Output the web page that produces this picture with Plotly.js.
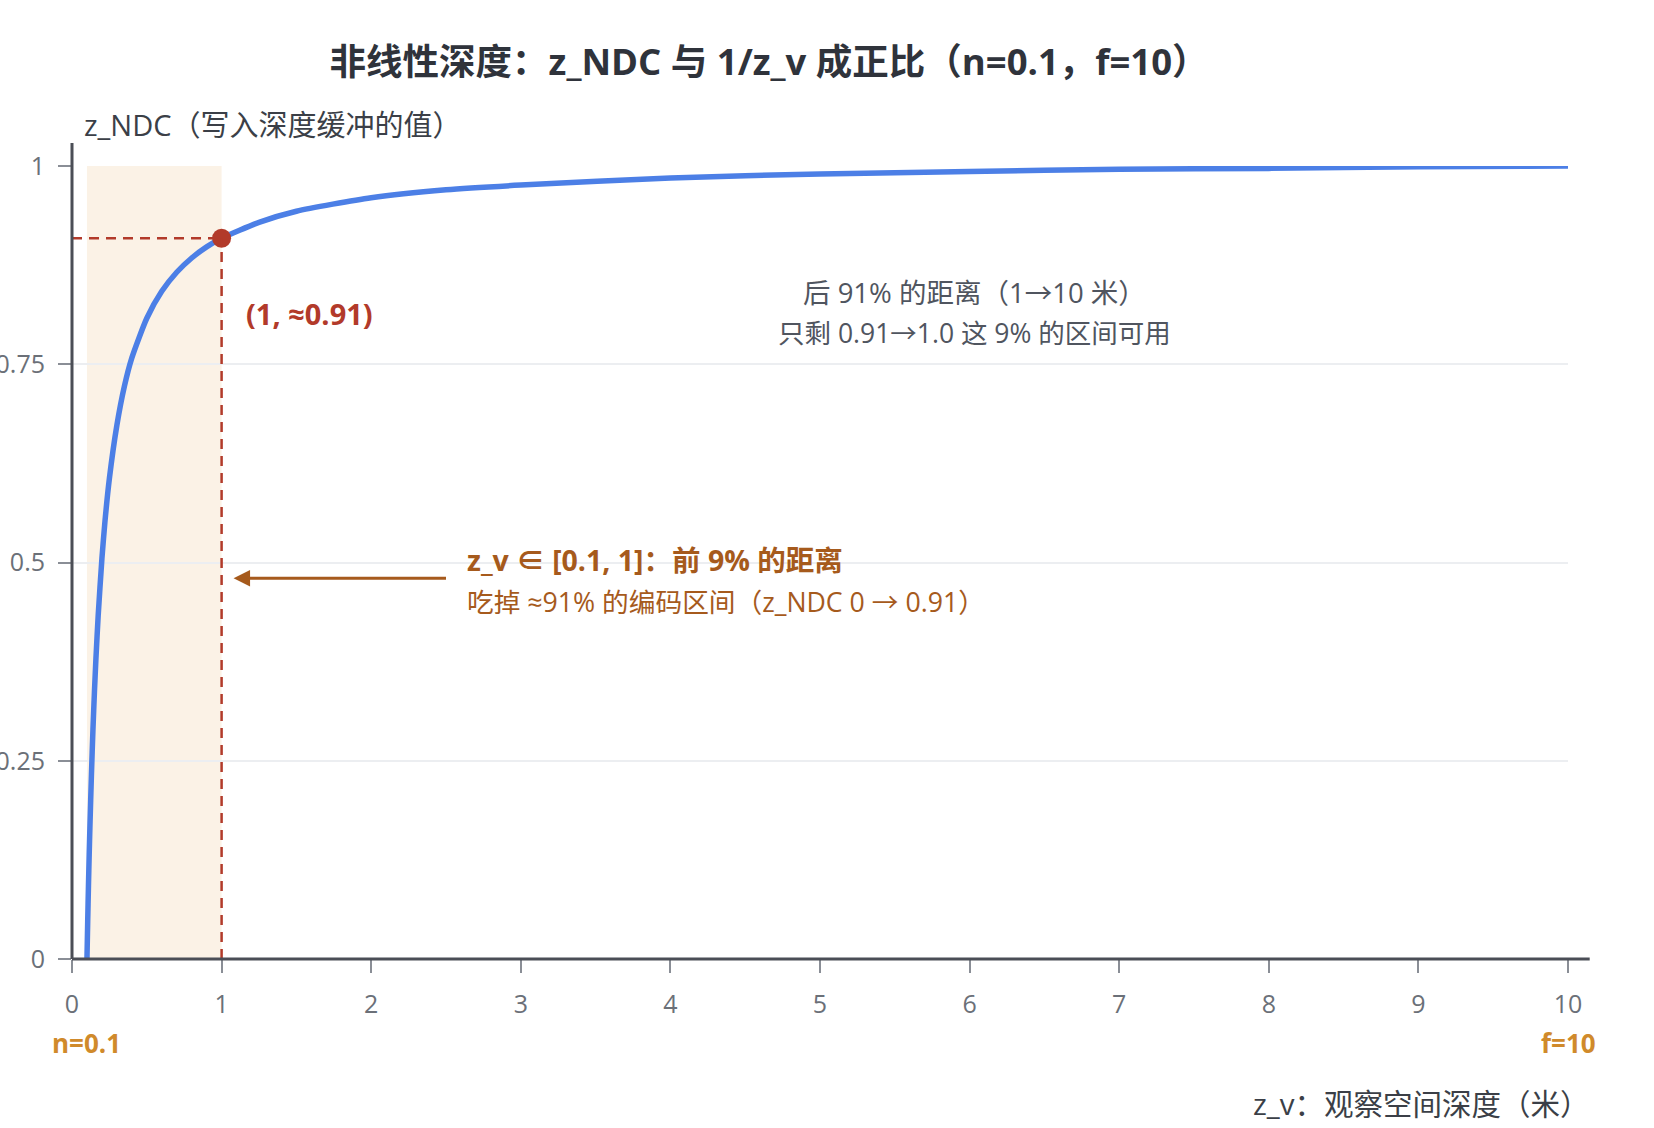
<!DOCTYPE html>
<html>
<head>
<meta charset="utf-8">
<script src="https://cdn.plot.ly/plotly-3.0.1.min.js"></script>
<style>html,body{margin:0;padding:0;background:#fff;}#chart{width:1654px;height:1128px;}</style>
</head>
<body>
<div id="chart"></div>
<script>
// Values
const zView = [0.1, 0.105, 0.11, 0.115, 0.12, 0.13, 0.14, 0.15, 0.16, 0.175, 0.2, 0.22, 0.25, 0.3, 0.35, 0.4, 0.5, 0.6, 0.7, 0.8, 0.9, 1, 1.25, 1.5, 2, 2.5, 3, 4, 5, 6, 7, 8, 9, 10];
const zNdc  = [0, 0.048, 0.092, 0.132, 0.168, 0.233, 0.289, 0.337, 0.379, 0.433, 0.505, 0.551, 0.606, 0.673, 0.722, 0.758, 0.808, 0.842, 0.866, 0.884, 0.898, 0.909, 0.929, 0.943, 0.960, 0.970, 0.976, 0.985, 0.990, 0.993, 0.996, 0.997, 0.999, 1.0];
const keyPoint = {x: 1, y: 0.909};
const nearPlane = 0.1, farPlane = 10;
const xTicks = [0,1,2,3,4,5,6,7,8,9,10];
const yTicks = [0, 0.25, 0.5, 0.75, 1];
const yTickText = ['0', '0.25', '0.5', '0.75', '1'];

const FONT = '"Open Sans", "Noto Sans CJK SC", sans-serif';
const RED = '#b23a2a', BROWN = '#a65a1c', ORANGE = '#d08a2b', AXIS = '#4b4e56', GRAY = '#50555f';

const traces = [
  {x: zView, y: zNdc, type: 'scatter', mode: 'lines', line: {color: '#4c7fe6', width: 5.5, shape: 'spline', smoothing: 0.6}, hoverinfo: 'x+y'},
  {x: [keyPoint.x], y: [keyPoint.y], type: 'scatter', mode: 'markers', marker: {color: RED, size: 19}, hoverinfo: 'x+y'}
];

const layout = {
  width: 1654, height: 1128,
  margin: {l: 72, r: 86, t: 166, b: 169},
  paper_bgcolor: '#fff', plot_bgcolor: '#fff',
  showlegend: false,
  font: {family: FONT, color: '#6b7078', size: 22},
  title: {text: '<b>非线性深度：z_NDC 与 1/z_v 成正比（n=0.1，f=10）</b>', x: 0.465, xanchor: 'center', y: 0.945, yanchor: 'middle', font: {family: FONT, size: 36.5, color: '#2f333b'}},
  xaxis: {range: [0, 10], tickvals: xTicks, showgrid: false, zeroline: false, showline: false, ticks: 'outside', ticklen: 13, tickwidth: 2, tickcolor: '#8a8e96', ticklabelstandoff: 10, tickfont: {size: 25, color: '#6b7078'}, fixedrange: true},
  yaxis: {range: [0, 1], tickvals: yTicks, ticktext: yTickText, showgrid: true, gridcolor: '#eceef1', gridwidth: 2, zeroline: false, showline: false, ticks: 'outside', ticklen: 13, tickwidth: 2, tickcolor: '#8a8e96', ticklabelstandoff: 8, tickfont: {size: 25, color: '#6b7078'}, fixedrange: true},
  shapes: [
    {type: 'rect', xref: 'x', yref: 'y', x0: nearPlane, x1: keyPoint.x, y0: 0, y1: 1, fillcolor: '#fbf2e6', line: {width: 0}, layer: 'below'},
    {type: 'line', xref: 'x', yref: 'y', x0: 0, x1: keyPoint.x, y0: keyPoint.y, y1: keyPoint.y, line: {color: RED, width: 2.5, dash: '10px,7px'}},
    {type: 'line', xref: 'x', yref: 'y', x0: keyPoint.x, x1: keyPoint.x, y0: 0, y1: keyPoint.y, line: {color: RED, width: 2.5, dash: '10px,7px'}},
    {type: 'line', xref: 'paper', yref: 'paper', x0: 0, x1: 1.0145, y0: 0, y1: 0, line: {color: AXIS, width: 3}},
    {type: 'line', xref: 'paper', yref: 'paper', x0: 0, x1: 0, y0: 0, y1: 1.029, line: {color: AXIS, width: 3}}
  ],
  annotations: [
    {text: 'z_NDC（写入深度缓冲的值）', xref: 'paper', yref: 'paper', x: 0.007, y: 1.052, xanchor: 'left', yanchor: 'middle', showarrow: false, font: {family: FONT, size: 29, color: '#3b3f47'}},
    {text: 'z_v：观察空间深度（米）', xref: 'paper', yref: 'paper', x: 1.016, y: -0.182, xanchor: 'right', yanchor: 'middle', showarrow: false, font: {family: FONT, size: 29.5, color: '#3b3f47'}},
    {text: '<b>n=0.1</b>', xref: 'x', yref: 'paper', x: nearPlane, y: -0.106, xanchor: 'center', yanchor: 'middle', showarrow: false, font: {family: FONT, size: 26, color: ORANGE}},
    {text: '<b>f=10</b>', xref: 'x', yref: 'paper', x: farPlane, y: -0.106, xanchor: 'center', yanchor: 'middle', showarrow: false, font: {family: FONT, size: 26, color: ORANGE}},
    {text: '<b>(1, ≈0.91)</b>', xref: 'x', yref: 'y', x: 1.15, y: 0.814, xanchor: 'left', yanchor: 'middle', showarrow: false, font: {family: FONT, size: 29, color: RED}},
    {text: '后 91% 的距离（1→10 米）', xref: 'x', yref: 'y', x: 6.03, y: 0.841, xanchor: 'center', yanchor: 'middle', showarrow: false, font: {family: FONT, size: 27.5, color: GRAY}},
    {text: '只剩 0.91→1.0 这 9% 的区间可用', xref: 'x', yref: 'y', x: 6.03, y: 0.789, xanchor: 'center', yanchor: 'middle', showarrow: false, font: {family: FONT, size: 26.5, color: GRAY}},
    {text: '<b>z_v ∈ [0.1, 1]：前 9% 的距离</b>', xref: 'x', yref: 'y', x: 2.63, y: 0.503, xanchor: 'left', yanchor: 'middle', showarrow: false, font: {family: FONT, size: 28.5, color: BROWN}},
    {text: '吃掉 ≈91% 的编码区间（z_NDC 0 → 0.91）', xref: 'x', yref: 'y', x: 2.63, y: 0.451, xanchor: 'left', yanchor: 'middle', showarrow: false, font: {family: FONT, size: 26.7, color: BROWN}},
    {text: '', xref: 'x', yref: 'y', x: 1.08, y: 0.48, ax: 2.51, ay: 0.48, axref: 'x', ayref: 'y', showarrow: true, arrowhead: 2, arrowsize: 1.1, arrowwidth: 3, arrowcolor: BROWN}
  ]
};

Plotly.newPlot('chart', traces, layout, {displayModeBar: false, staticPlot: true});
</script>
</body>
</html>
